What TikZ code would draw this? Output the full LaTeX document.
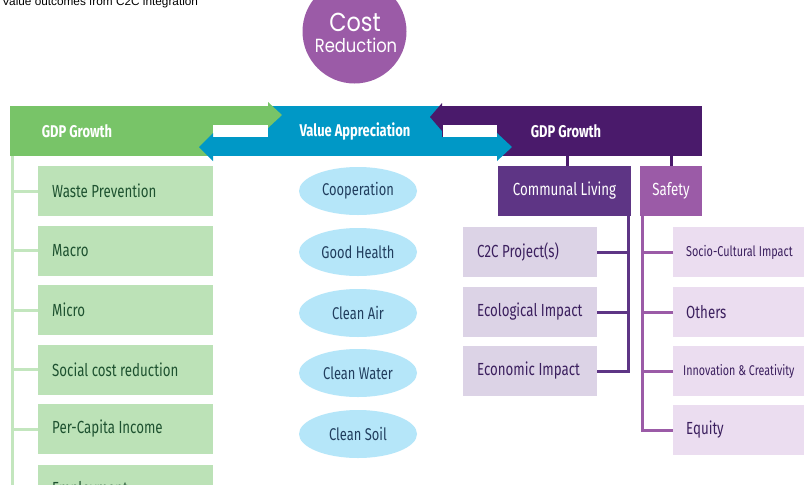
\documentclass[tikz,border=0pt]{standalone}
\usepackage{fontspec}
\setmainfont{Fira Sans}
\newfontfamily\dinfont[FakeStretch=0.76]{Fira Sans}
\newfontfamily\titfont{Liberation Sans}
\newfontfamily\futfont[FakeStretch=0.86]{Poppins}
\usetikzlibrary{shapes.geometric,calc,backgrounds}
\definecolor{cgreen}{HTML}{78C468}
\definecolor{cgreenlt}{HTML}{BCE2B7}
\definecolor{cgreenln}{HTML}{C3E6BE}
\definecolor{cgreentx}{HTML}{1E5230}
\definecolor{cblue}{HTML}{0098C6}
\definecolor{cbluelt}{HTML}{B5E6F9}
\definecolor{cblueln}{HTML}{B8E4F5}
\definecolor{cbluetx}{HTML}{213E5E}
\definecolor{cpdark}{HTML}{4A1A6B}
\definecolor{cpmid}{HTML}{5E3585}
\definecolor{cpurp}{HTML}{9B5BA7}
\definecolor{clavA}{HTML}{DCD3E6}
\definecolor{clavB}{HTML}{EBDDF0}
\definecolor{cptx}{HTML}{3B1F5E}
\tikzset{
  conn/.style={line width=3pt},
  bartxt/.style={text=white, inner sep=0, font=\dinfont\bfseries\fontsize{17}{17}\selectfont},
  gbox/.style={rectangle, anchor=west, fill=cgreenlt, text=cgreentx, minimum height=50pt,
     inner xsep=14pt, inner ysep=0pt, text width=147pt, align=flush left,
     font=\dinfont\fontsize{17.5}{17}\selectfont},
  ell/.style={ellipse, fill=cbluelt, text=cbluetx, minimum width=118pt, minimum height=48pt,
     inner sep=0pt, font=\dinfont\fontsize{17}{17}\selectfont},
  lavA/.style={rectangle, anchor=west, fill=clavA, text=cptx, minimum height=50pt,
     inner xsep=14pt, inner ysep=0pt, text width=106pt, align=flush left,
     font=\dinfont\fontsize{17.5}{17}\selectfont},
  lavB/.style={rectangle, anchor=west, fill=clavB, text=cptx, minimum height=50pt,
     inner xsep=13pt, inner ysep=0pt, text width=114pt, align=flush left,
     font=\dinfont\fontsize{17.5}{17}\selectfont},
  head/.style={rectangle, inner sep=0pt, text=white, font=\dinfont\fontsize{17.5}{17}\selectfont}
}
\begin{document}
\begin{tikzpicture}[x=1pt,y=-1pt]
\useasboundingbox (0,0) rectangle (804,485);
\clip (0,0) rectangle (804,485);
\fill[white] (0,0) rectangle (804,485);

% title
\node[anchor=base west, inner sep=0, font=\titfont\fontsize{11.8}{12}\selectfont] (title) at (2,5.5) {Value outcomes from C2C integration};

% central circle
\node[circle, fill=cpurp, minimum size=104pt, inner sep=0pt] (cost) at (354.5,31.5) {};
\node[inner sep=0, text=white, font=\futfont\fontsize{26}{26}\selectfont] (costA) at (355,22) {Cost};
\node[inner sep=0, text=white, font=\futfont\fontsize{19}{19}\selectfont] (costB) at (356,45) {Reduction};

\coordinate (dotL) at (117,106);
\coordinate (dotM) at (354.5,106);
\coordinate (dotR) at (593,106);

\begin{pgfonlayer}{background}
  \draw[conn, cpurp] (cost.center) -| (dotL);
  \shade[top color=cpurp, bottom color=cgreen] ($(dotL)+(-1.5,-62)$) rectangle ($(dotL)+(1.5,0)$);
  \draw[conn, cpurp] (cost.center) -| (dotR);
  \shade[top color=cpurp, bottom color=cblue!75!cpurp] ($(cost.south)+(-1.5,-2)$) rectangle ($(dotM)+(1.5,0)$);
  \fill[cgreen] (dotL) circle (8.5);
  \fill[cblue] (dotM) circle (8.5);
  \fill[cpdark] (dotR) circle (8.5);
\end{pgfonlayer}

% bars
\fill[cgreen] (10,106) rectangle (268,156);
\fill[cblue] (268,106) rectangle (442,156);
\fill[cpdark] (442,106) rectangle (702,156);
\fill[cgreen] (268,102) -- (282,115) -- (268,128) -- cycle;
\fill[cpdark] (442,103) -- (430,117) -- (442,131) -- cycle;
\fill[white] (213,125) rectangle (268,137);
\fill[white] (443,125) rectangle (497,137);
\fill[cblue] (213,137) rectangle (268,156);
\fill[cblue] (213,133) -- (199,147) -- (213,161) -- cycle;
\fill[cblue] (442,137) rectangle (497,156);
\fill[cblue] (497,133) -- (512,147) -- (497,161) -- cycle;

\node[bartxt] (gdpL) at (77,131) {GDP Growth};
\node[bartxt] (vapp) at (355,131) {Value Appreciation};
\node[bartxt] (gdpR) at (566,131) {GDP Growth};

% green column
\coordinate (gtop) at (12,156);
\coordinate (gbot) at (12,490);
\draw[conn, cgreenln] (gtop) -- (gbot);
\node[gbox] (g1) at (38,191) {Waste Prevention};
\node[gbox] (g2) at (38,250.5) {Macro};
\node[gbox] (g3) at (38,310) {Micro};
\node[gbox] (g4) at (38,369.5) {Social cost reduction};
\node[gbox] (g5) at (38,429) {Per-Capita Income};
\node[gbox] (g6) at (38,490) {Employment};
\foreach \n in {g1,g2,g3,g4,g5}
  \draw[conn, cgreenln] (\n.west) -- (\n.west -| gtop);

% blue column
\coordinate (btop) at (270,156);
\node[ell] (b1) at (358,191) {Cooperation};
\node[ell] (b2) at (358,252) {Good Health};
\node[ell] (b3) at (358,313) {Clean Air};
\node[ell] (b4) at (358,373) {Clean Water};
\node[ell] (b5) at (358,434) {Clean Soil};
\begin{pgfonlayer}{background}
\draw[conn, cblueln] (btop) |- (b5.west);
\foreach \n in {b1,b2,b3,b4}
  \draw[conn, cblueln] (\n.west) -- (\n.west -| btop);
\end{pgfonlayer}

% purple side
\node[head, fill=cpmid, minimum width=133pt, minimum height=50pt] (comm) at (564.5,191) {Communal Living};
\node[head, fill=cpurp, minimum width=62pt, minimum height=50pt] (safe) at (671,191) {Safety};
\coordinate (cl) at (567,156);
\coordinate (sl) at (671,156);
\draw[conn, cpdark] (cl) -- (cl |- comm.north);
\draw[conn, cpdark] (sl) -- (sl |- safe.north);

\node[lavA] (p1) at (463,252) {\mbox{C2C Project(s)}};
\node[lavA] (p2) at (463,312) {\mbox{Ecological Impact}};
\node[lavA] (p3) at (463,371) {\mbox{Economic Impact}};
\coordinate (ptrunk) at (628,216);
\draw[conn, cpmid] (ptrunk) |- (p3.east);
\foreach \n in {p1,p2}
  \draw[conn, cpmid] (\n.east) -- (\n.east -| ptrunk);

\node[lavB, font=\dinfont\fontsize{14.3}{14}\selectfont] (s1) at (673,252) {\mbox{Socio-Cultural Impact}};
\node[lavB] (s2) at (673,312) {Others};
\node[lavB, inner xsep=10pt, text width=120pt, font=\dinfont\fontsize{14.1}{14}\selectfont] (s3) at (673,371) {\mbox{Innovation \& Creativity}};
\node[lavB] (s4) at (673,430) {Equity};
\coordinate (strunk) at (642,216);
\draw[conn, cpurp] (strunk) |- (s4.west);
\foreach \n in {s1,s2,s3}
  \draw[conn, cpurp] (\n.west) -- (\n.west -| strunk);
\end{tikzpicture}
\end{document}
